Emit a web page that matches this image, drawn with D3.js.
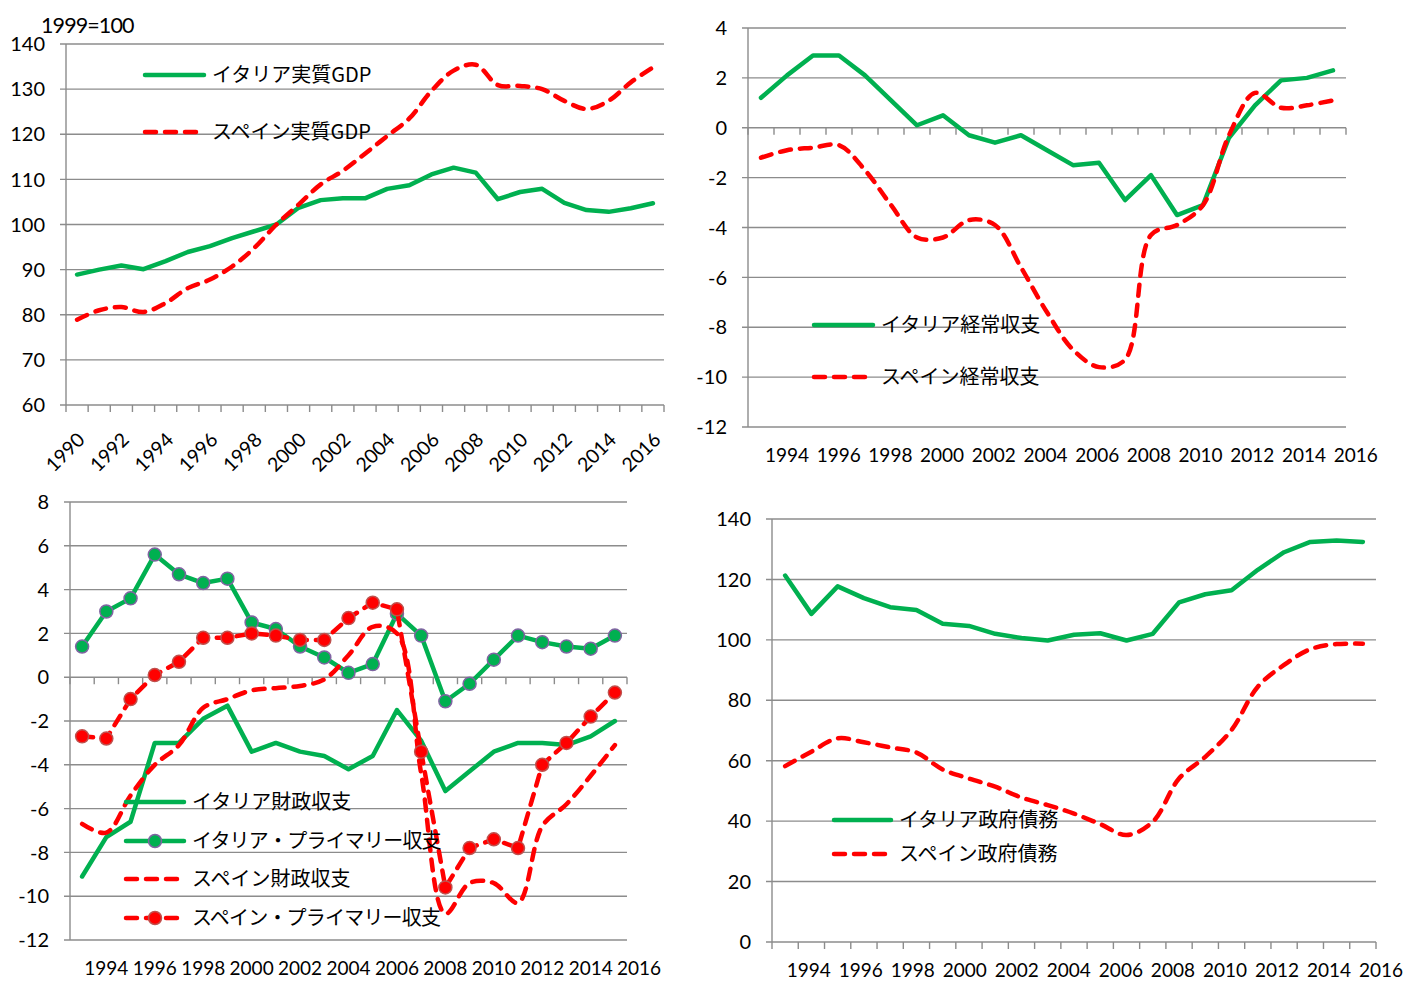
<!DOCTYPE html>
<html>
<head>
<meta charset="utf-8">
<script src="https://cdn.jsdelivr.net/npm/d3@7"></script>
<style>
  body { margin: 0; background: #fff; }
  svg { display: block; }
  text { font-family: Lato, "Noto Sans CJK JP", sans-serif; fill: #000; }
  text.jp { font-family: "Noto Sans CJK JP", sans-serif; }
</style>
</head>
<body>
<svg id="chart" width="1408" height="982"></svg>
<script>
// ---------------- data ----------------
const gdpYears = [1990, 1991, 1992, 1993, 1994, 1995, 1996, 1997, 1998, 1999, 2000, 2001, 2002, 2003,
                  2004, 2005, 2006, 2007, 2008, 2009, 2010, 2011, 2012, 2013, 2014, 2015, 2016];
const italyGdp = [88.9, 90.0, 90.9, 90.1, 91.9, 93.9, 95.2, 97.0, 98.5, 100.0, 103.7, 105.4, 105.8, 105.8,
                  107.9, 108.7, 111.1, 112.6, 111.5, 105.6, 107.2, 107.9, 104.8, 103.2, 102.8, 103.6, 104.7];
const spainGdp = [78.9, 81.0, 81.7, 80.6, 82.6, 85.9, 87.8, 90.7, 94.8, 100.0, 104.4, 108.9, 111.9, 115.7,
                  119.6, 123.5, 129.6, 134.1, 135.4, 130.9, 130.7, 130.0, 127.4, 125.6, 127.4, 131.5, 134.8];

const balYears = [1994, 1995, 1996, 1997, 1998, 1999, 2000, 2001, 2002, 2003, 2004, 2005,
                  2006, 2007, 2008, 2009, 2010, 2011, 2012, 2013, 2014, 2015, 2016];

const italyCurrent = [1.2, 2.1, 2.9, 2.9, 2.1, 1.1, 0.1, 0.5, -0.3, -0.6, -0.3, -0.9,
                      -1.5, -1.4, -2.9, -1.9, -3.5, -3.1, -0.4, 0.9, 1.9, 2.0, 2.3];
const spainCurrent = [-1.2, -0.9, -0.8, -0.7, -1.7, -3.1, -4.4, -4.4, -3.7, -3.9, -5.6, -7.4,
                      -8.9, -9.6, -9.3, -4.3, -3.9, -3.1, -0.3, 1.4, 0.8, 0.9, 1.1];

const italyFiscal = [-9.1, -7.3, -6.6, -3.0, -3.0, -1.9, -1.3, -3.4, -3.0, -3.4, -3.6, -4.2,
                     -3.6, -1.5, -2.9, -5.2, -4.3, -3.4, -3.0, -3.0, -3.1, -2.7, -2.0];
const italyPrimary = [1.4, 3.0, 3.6, 5.6, 4.7, 4.3, 4.5, 2.5, 2.2, 1.4, 0.9, 0.2,
                      0.6, 2.9, 1.9, -1.1, -0.3, 0.8, 1.9, 1.6, 1.4, 1.3, 1.9];
const spainFiscal = [-6.7, -7.1, -5.4, -4.0, -3.1, -1.4, -1.0, -0.6, -0.5, -0.4, -0.1, 1.0,
                     2.3, 2.0, -4.4, -10.8, -9.4, -9.4, -10.3, -6.8, -5.8, -4.5, -3.1];
const spainPrimary = [-2.7, -2.8, -1.0, 0.1, 0.7, 1.8, 1.8, 2.0, 1.9, 1.7, 1.7, 2.7,
                      3.4, 3.1, -3.4, -9.6, -7.8, -7.4, -7.8, -4.0, -3.0, -1.8, -0.7];

const italyDebt = [121.3, 108.6, 117.7, 113.8, 110.8, 109.9, 105.3, 104.6, 102.0, 100.6, 99.8, 101.7,
                   102.2, 99.8, 102.0, 112.4, 115.1, 116.4, 123.2, 129.0, 132.4, 132.9, 132.4];
const spainDebt = [58.2, 63.0, 67.4, 66.1, 64.4, 62.7, 57.1, 54.1, 51.4, 47.8, 45.3, 42.5,
                   39.0, 35.4, 39.8, 54.1, 61.3, 70.2, 84.5, 91.7, 96.9, 98.6, 98.7];

const gdpTicks = [60, 70, 80, 90, 100, 110, 120, 130, 140];
const currentTicks = [-12, -10, -8, -6, -4, -2, 0, 2, 4];
const fiscalTicks = [-12, -10, -8, -6, -4, -2, 0, 2, 4, 6, 8];
const debtTicks = [0, 20, 40, 60, 80, 100, 120, 140];

const gdpLabels = ['1990', '1992', '1994', '1996', '1998', '2000', '2002', '2004',
                   '2006', '2008', '2010', '2012', '2014', '2016'];
const balLabels = ['1994', '1996', '1998', '2000', '2002', '2004', '2006', '2008',
                   '2010', '2012', '2014', '2016'];

// ---------------- styles ----------------
const GREEN = '#00B050';
const RED = '#FF0000';
const GRID = '#8c8c8c';

const svg = d3.select('#chart');

function drawPanel(p)
{
  const g = svg.append('g');

  const x = d3.scaleBand().domain(p.years).range([p.left, p.right]);
  const y = d3.scaleLinear().domain(d3.extent(p.ticks)).range([p.bottom, p.top]);
  const cx = (yr) => x(yr) + x.bandwidth() / 2;

  // horizontal gridlines, with the little tick stub left of the axis
  g.selectAll('line.grid').data(p.ticks).join('line')
      .attr('class', 'grid')
      .attr('x1', p.left - 6).attr('x2', p.right)
      .attr('y1', d => y(d)).attr('y2', d => y(d))
      .attr('stroke', GRID).attr('stroke-width', 1.4);

  // value axis
  g.append('line')
      .attr('x1', p.left).attr('x2', p.left)
      .attr('y1', y(d3.max(p.ticks))).attr('y2', y(d3.min(p.ticks)))
      .attr('stroke', GRID).attr('stroke-width', 1.4);

  // category ticks hanging under the category axis
  const bounds = p.years.map(d => x(d)).concat([p.right]);
  g.selectAll('line.cat').data(bounds).join('line')
      .attr('class', 'cat')
      .attr('x1', d => d).attr('x2', d => d)
      .attr('y1', y(p.axisAt)).attr('y2', y(p.axisAt) + 7)
      .attr('stroke', GRID).attr('stroke-width', 1.4);

  // value labels
  g.selectAll('text.ytick').data(p.ticks).join('text')
      .attr('class', 'ytick')
      .attr('x', p.left - 21)
      .attr('y', d => y(d))
      .attr('dy', '0.36em')
      .attr('text-anchor', 'end')
      .style('font-size', '20px')
      .text(d => d);

  // category labels
  const step = x.bandwidth();
  if(p.rotate)
  {
    g.selectAll('text.xtick').data(p.labels).join('text')
        .attr('class', 'xtick')
        .attr('text-anchor', 'end')
        .attr('transform', d => 'translate(' + (cx(+d) + 4) + ',' + (p.bottom + 31) + ') rotate(-45)')
        .attr('dy', '0.36em')
        .style('font-size', '19.5px')
        .text(d => d);
  }
  else
  {
    // labels sit about one category to the right, as in the original sheet
    g.selectAll('text.xtick').data(p.labels).join('text')
        .attr('class', 'xtick')
        .attr('x', (d, i) => cx(+d) + step * p.labelShift - i * p.labelSqueeze)
        .attr('y', p.bottom + 28)
        .attr('dy', '0.36em')
        .attr('text-anchor', 'middle')
        .style('font-size', '19px')
        .text(d => d);
  }

  // series
  p.series.forEach(s =>
  {
    const line = d3.line()
        .x((d, i) => cx(p.years[i]))
        .y(d => y(d))
        .curve(s.smooth ? d3.curveCatmullRom.alpha(0.5) : d3.curveLinear);

    g.append('path')
        .attr('d', line(s.values))
        .attr('fill', 'none')
        .attr('stroke', s.color)
        .attr('stroke-width', 4.5)
        .attr('stroke-linejoin', 'round')
        .attr('stroke-linecap', 'round')
        .attr('stroke-dasharray', s.dash ? '11,9' : null);

    if(s.marker)
    {
      g.selectAll(null).data(s.values).join('circle')
          .attr('cx', (d, i) => cx(p.years[i]))
          .attr('cy', d => y(d))
          .attr('r', 6.5)
          .attr('fill', s.color)
          .attr('stroke', s.markerStroke)
          .attr('stroke-width', 1.5);
    }
  });

  // legend (no box, drawn on top of the lines)
  p.series.forEach((s, i) =>
  {
    const ly = p.legend.ys[i];
    g.append('line')
        .attr('x1', p.legend.x1 + 2).attr('x2', p.legend.x2 - 2)
        .attr('y1', ly).attr('y2', ly)
        .attr('stroke', s.color)
        .attr('stroke-width', 4.5)
        .attr('stroke-linecap', 'round')
        .attr('stroke-dasharray', s.dash ? '11,9' : null);
    if(s.marker)
    {
      g.append('circle')
          .attr('cx', (p.legend.x1 + p.legend.x2) / 2).attr('cy', ly)
          .attr('r', 6.5)
          .attr('fill', s.color)
          .attr('stroke', s.markerStroke)
          .attr('stroke-width', 1.5);
    }
    g.append('text')
        .attr('class', 'jp')
        .attr('x', p.legend.textX)
        .attr('y', ly)
        .attr('dy', '0.36em')
        .style('font-size', '20px')
        .style('letter-spacing', s.name.length > 10 ? '-0.8px' : null)
        .text(s.name);
  });

  return g;
}

// top left: real GDP
drawPanel({
  left: 66, right: 664, top: 44, bottom: 405,
  years: gdpYears, ticks: gdpTicks, labels: gdpLabels, axisAt: 60, rotate: true,
  series: [
    {name: 'イタリア実質GDP', values: italyGdp, color: GREEN},
    {name: 'スペイン実質GDP', values: spainGdp, color: RED, dash: true, smooth: true}
  ],
  legend: {x1: 143, x2: 206, textX: 212, ys: [75, 132]}
});

svg.append('text')
    .attr('x', 41).attr('y', 33)
    .style('font-size', '21.5px')
    .style('letter-spacing', '-0.9px')
    .text('1999=100');

// top right: current account
drawPanel({
  left: 748, right: 1346, top: 28, bottom: 427,
  years: balYears, ticks: currentTicks, labels: balLabels, axisAt: 0,
  labelShift: 1, labelSqueeze: 0.3,
  series: [
    {name: 'イタリア経常収支', values: italyCurrent, color: GREEN},
    {name: 'スペイン経常収支', values: spainCurrent, color: RED, dash: true, smooth: true}
  ],
  legend: {x1: 812, x2: 875, textX: 881, ys: [325, 377]}
});

// bottom left: fiscal balances
drawPanel({
  left: 70, right: 627, top: 502, bottom: 940,
  years: balYears, ticks: fiscalTicks, labels: balLabels, axisAt: 0,
  labelShift: 1, labelSqueeze: 0,
  series: [
    {name: 'イタリア財政収支', values: italyFiscal, color: GREEN},
    {name: 'イタリア・プライマリー収支', values: italyPrimary, color: GREEN, marker: true, markerStroke: '#8064A2'},
    {name: 'スペイン財政収支', values: spainFiscal, color: RED, dash: true, smooth: true},
    {name: 'スペイン・プライマリー収支', values: spainPrimary, color: RED, dash: true, marker: true, markerStroke: '#C0504D'}
  ],
  legend: {x1: 124, x2: 186, textX: 192, ys: [802, 841, 879, 918]}
});

// bottom right: government debt
drawPanel({
  left: 772, right: 1376, top: 519, bottom: 942,
  years: balYears, ticks: debtTicks, labels: balLabels, axisAt: 0,
  labelShift: 0.9, labelSqueeze: 0.5,
  series: [
    {name: 'イタリア政府債務', values: italyDebt, color: GREEN},
    {name: 'スペイン政府債務', values: spainDebt, color: RED, dash: true, smooth: true}
  ],
  legend: {x1: 832, x2: 893, textX: 899, ys: [820, 854]}
});
</script>
</body>
</html>
